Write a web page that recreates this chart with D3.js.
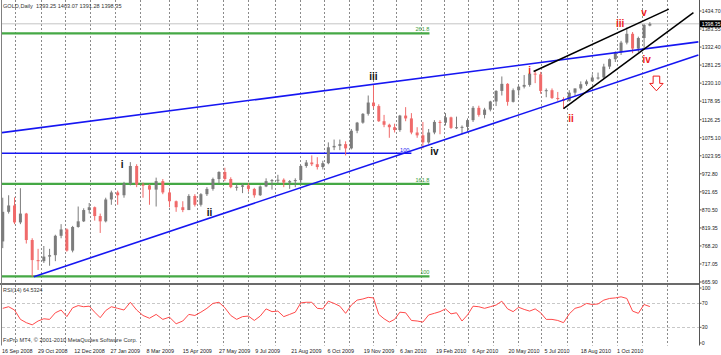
<!DOCTYPE html>
<html><head><meta charset="utf-8">
<script src="https://cdn.jsdelivr.net/npm/d3@7"></script>
<style>html,body{margin:0;padding:0;background:#fff;overflow:hidden}</style>
</head><body>
<svg id="c" width="721" height="355"></svg>
<script>
// ---------- DATA ----------
const weekStart = [
"2008-09-15","2008-09-22","2008-09-29","2008-10-06","2008-10-13","2008-10-20","2008-10-27","2008-11-03","2008-11-10","2008-11-17",
"2008-11-24","2008-12-01","2008-12-08","2008-12-15","2008-12-22","2008-12-29","2009-01-05","2009-01-12","2009-01-19","2009-01-26",
"2009-02-02","2009-02-09","2009-02-16","2009-02-23","2009-03-02","2009-03-09","2009-03-16","2009-03-23","2009-03-30","2009-04-06",
"2009-04-13","2009-04-20","2009-04-27","2009-05-04","2009-05-11","2009-05-18","2009-05-25","2009-06-01","2009-06-08","2009-06-15",
"2009-06-22","2009-06-29","2009-07-06","2009-07-13","2009-07-20","2009-07-27","2009-08-03","2009-08-10","2009-08-17","2009-08-24",
"2009-08-31","2009-09-07","2009-09-14","2009-09-21","2009-09-28","2009-10-05","2009-10-12","2009-10-19","2009-10-26","2009-11-02",
"2009-11-09","2009-11-16","2009-11-23","2009-11-30","2009-12-07","2009-12-14","2009-12-21","2009-12-28","2010-01-04","2010-01-11",
"2010-01-18","2010-01-25","2010-02-01","2010-02-08","2010-02-15","2010-02-22","2010-03-01","2010-03-08","2010-03-15","2010-03-22",
"2010-03-29","2010-04-05","2010-04-12","2010-04-19","2010-04-26","2010-05-03","2010-05-10","2010-05-17","2010-05-24","2010-05-31",
"2010-06-07","2010-06-14","2010-06-21","2010-06-28","2010-07-05","2010-07-12","2010-07-19","2010-07-26","2010-08-02","2010-08-09",
"2010-08-16","2010-08-23","2010-08-30","2010-09-06","2010-09-13","2010-09-20","2010-09-27","2010-10-04","2010-10-11","2010-10-18",
"2010-10-25","2010-11-01","2010-11-08"];
const open = [
781,865,883,835,860,785,728,725,738,742, 797,815,755,822,838,870,878,853,838,900,
920,912,945,995,942,940,928,952,920,895, 878,870,910,885,915,930,958,978,958,935,
936,940,930,912,937,952,955,956,948,952, 955,995,1005,1000,992,1003,1048,1052,1057,1045,
1095,1118,1143,1175,1165,1122,1112,1105,1097,1138, 1130,1090,1082,1062,1090,1120,1118,1133,1103,1105,
1106,1125,1160,1140,1155,1178,1208,1228,1177,1210, 1220,1225,1257,1255,1208,1210,1188,1185,1180,1203,
1215,1227,1235,1246,1246,1277,1298,1318,1345,1370, 1328,1358,1393.25];
const high = [
905,912,906,932,862,790,760,768,760,800, 830,818,825,880,875,890,880,860,905,925,
925,950,1006,1000,948,943,962,958,928,897, 895,915,915,918,935,962,980,990,963,945,
945,946,933,940,960,958,970,960,955,960, 998,1012,1025,1020,1010,1062,1070,1070,1065,1100,
1120,1145,1195,1226,1170,1140,1115,1115,1140,1162, 1145,1105,1120,1100,1125,1125,1145,1135,1135,1110,
1130,1165,1166,1160,1180,1210,1249,1230,1215,1222, 1253,1262,1265,1262,1215,1215,1205,1190,1210,1215,
1235,1240,1255,1260,1285,1300,1320,1350,1388,1375, 1362,1398,1403.07];
const low = [
762,860,830,830,775,681,700,720,712,725, 790,752,750,820,836,860,840,805,835,885,
885,905,940,935,905,885,880,915,878,865, 864,870,880,880,910,925,945,952,932,925,
918,922,905,910,935,928,945,935,930,935, 945,990,995,985,985,1000,1040,1040,1025,1042,
1088,1115,1138,1158,1120,1105,1075,1090,1092,1122, 1085,1075,1045,1058,1085,1085,1110,1100,1100,1085,
1093,1120,1135,1130,1150,1165,1195,1166,1175,1195, 1215,1220,1230,1200,1190,1185,1180,1157,1178,1195,
1210,1222,1235,1240,1242,1270,1290,1310,1340,1315, 1318,1330,1391.28];
const close = [
865,883,835,860,785,728,725,738,742,797, 815,755,822,838,870,878,853,838,900,920,
912,945,995,942,940,928,952,920,895,878, 870,910,885,915,930,958,978,958,935,936,
940,930,912,937,952,955,956,948,952,955, 995,1005,1000,992,1003,1048,1052,1057,1045,1095,
1118,1143,1175,1165,1122,1112,1105,1097,1138,1130, 1090,1082,1062,1090,1120,1118,1133,1103,1105,1106,
1125,1160,1140,1155,1178,1208,1228,1177,1210,1220, 1225,1257,1255,1208,1210,1188,1185,1180,1203,1215,
1227,1235,1246,1246,1277,1298,1318,1345,1370,1328, 1358,1395,1398.35];
const rsi = [
61.6,64.3,58.8,43.2,37.7,34.1,40.5,44.2,43.2,54.2, 58.8,47.8,62.5,66.2,64.3,65.2,55.2,46.0,57.9,64.3,
61.6,58.8,71.7,58.8,49.7,45.1,51.5,43.2,46.9,35.9, 40.5,51.5,49.7,55.2,61.6,69.8,71.7,62.5,49.7,43.2,
47.8,48.7,41.4,48.7,60.7,56.1,57.0,47.8,51.5,55.2, 70.7,71.7,71.7,61.6,60.7,73.5,69.8,65.2,53.3,67.1,
75.3,77.2,79.9,79.0,51.5,44.2,38.7,43.2,55.2,54.2, 41.4,40.5,38.7,50.6,53.3,56.1,60.7,52.4,54.2,40.5,
50.6,65.2,64.3,61.6,64.3,67.1,73.5,60.7,56.1,63.4, 59.8,57.0,60.7,54.2,43.2,43.2,41.4,37.7,52.4,61.6,
64.3,69.8,68.0,68.9,75.3,78.1,79.0,80.8,78.1,57.0, 53.3,68.0,64.53];

const tickDates = ["2008-09-16","2008-10-29","2008-12-12","2009-01-27","2009-03-08","2009-04-15","2009-05-27",
"2009-07-09","2009-08-21","2009-10-06","2009-11-19","2010-01-06","2010-02-19","2010-04-06","2010-05-20",
"2010-07-05","2010-08-18","2010-10-01"];
const priceTicks = [1434.70,1383.55,1332.40,1281.25,1230.10,1178.95,1126.25,1075.10,1023.95,972.80,
921.65,870.50,819.35,768.20,717.05,665.90];
const rsiTicks = [100,70,30,0];
const rsiLevels = [70,30];
const bid = 1398.35;
const header = "GOLD,Daily  1393.25 1403.07 1391.28 1398.35";
const rsiTitle = "RSI(14) 64.5324";
const copyright = "FxPro MT4, \u00a9 2001-2010 MetaQuotes Software Corp.";

// Fibonacci levels (green) and level (blue)
const fibLevels = [["261.8",1371],["161.8",944.5],["100",682]];
const fibEnd = "2010-02-11";
const blueLevel = ["100",1031];
const blueLevelEnd = "2010-01-20";

// trend lines: [date1, price1, date2, price2, kind]
const trendLines = [
  ["2008-09-16",1089.5,"2011-01-08",1347,"blue"],
  ["2008-10-24",681,"2011-01-08",1310,"blue"],
  ["2010-06-21",1263,"2010-12-03",1440,"black"],
  ["2010-07-28",1158,"2011-01-02",1430,"black"]
];
// wave labels: [text, date, price, kind]
const waves = [
  ["i","2009-02-09",1000.7,"black"],["ii","2009-05-16",862.5,"black"],
  ["iii","2009-12-02",1248.3,"black"],["iv","2010-02-17",1035.5,"black"],
  ["i","2010-06-16",1265.3,"red"],["ii","2010-08-06",1130.3,"red"],
  ["iii","2010-10-05",1399.8,"red"],["iv","2010-11-06",1298.5,"red"],
  ["v","2010-11-03",1431,"red"]
];
const arrowAt = ["2010-11-18",1250];

// ---------- SCALES ----------
const parse = d3.utcParse("%Y-%m-%d");
const tD = tickDates.map(parse);
const X0 = 1.9, STEP = 36.18;
const x = d3.scaleUtc().domain(tD).range(tD.map((d,i)=>X0+i*STEP));
const y = d3.scaleLinear().domain([665.9,1434.7]).range([282,11]);
const yr = d3.scaleLinear().domain([0,100]).range([345.3,285.3]);

const PL=2, PR=699.5, PB=283, RT=285, RB=345.5;
const FONT = "'Liberation Sans', Arial, sans-serif";
const RED="#ee1c1c", BLUE="#1616f2", GREEN="#45a845";
const AX_FS = 5.2, AX_X = 701.8;

const svg = d3.select("#c");
svg.append("rect").attr("width",721).attr("height",355).attr("fill","#fff");
const defs = svg.append("defs");
defs.append("clipPath").attr("id","main").append("rect").attr("x",PL).attr("y",0).attr("width",PR-PL).attr("height",PB);
defs.append("clipPath").attr("id","sub").append("rect").attr("x",PL).attr("y",RT).attr("width",PR-PL).attr("height",RB-RT);

// grid
const months = d3.utcMonth.range(new Date(Date.UTC(2008,9,1)), new Date(Date.UTC(2011,0,1)));
const gridG = svg.append("g").attr("stroke","#8a8a8a").attr("stroke-width",1).attr("stroke-dasharray","2,2");
months.forEach(m=>{
  const xx = Math.round(x(m))+0.5;
  if (xx<PR-2){
    gridG.append("line").attr("x1",xx).attr("x2",xx).attr("y1",0).attr("y2",PB);
    gridG.append("line").attr("x1",xx).attr("x2",xx).attr("y1",RT).attr("y2",RB);
  }
});
// RSI level lines
rsiLevels.forEach(l=>{
  svg.append("line").attr("x1",PL).attr("x2",PR).attr("y1",Math.round(yr(l))+0.5).attr("y2",Math.round(yr(l))+0.5)
    .attr("stroke","#c8c8c8").attr("stroke-dasharray","3,2");
});

const main = svg.append("g").attr("clip-path","url(#main)");
// bid line
main.append("line").attr("x1",PL).attr("x2",PR).attr("y1",y(bid)).attr("y2",y(bid)).attr("stroke","#c4c4c4");

// fib lines
fibLevels.forEach(([t,p])=>{
  main.append("line").attr("x1",PL).attr("x2",x(parse(fibEnd))).attr("y1",y(p)).attr("y2",y(p))
    .attr("stroke",GREEN).attr("stroke-width",2.2);
  svg.append("text").attr("x",x(parse(fibEnd))).attr("y",y(p)-2).attr("text-anchor","end")
    .attr("font-family",FONT).attr("font-size",5.6).attr("fill","#3a9a3a").text(t);
});
main.append("line").attr("x1",PL).attr("x2",x(parse(blueLevelEnd))).attr("y1",y(blueLevel[1])).attr("y2",y(blueLevel[1]))
  .attr("stroke",BLUE).attr("stroke-width",1.4);
svg.append("text").attr("x",x(parse(blueLevelEnd))-2).attr("y",y(blueLevel[1])-1.5).attr("text-anchor","end")
  .attr("font-family",FONT).attr("font-size",5.6).attr("fill",BLUE).text(blueLevel[0]);

// candles
const bars = weekStart.map((d,i)=>({d:d3.utcDay.offset(parse(d),2),o:open[i],h:high[i],l:low[i],c:close[i]}));
const BW = 3.0;
const cg = main.append("g");
bars.forEach(b=>{
  const col = b.c>=b.o ? "#7c7c7c" : "#f06a6a";
  const cx = x(b.d);
  cg.append("line").attr("x1",cx).attr("x2",cx).attr("y1",y(b.h)).attr("y2",y(b.l)).attr("stroke",col).attr("stroke-width",1);
  const top = y(Math.max(b.o,b.c)), bot = y(Math.min(b.o,b.c));
  cg.append("rect").attr("x",cx-BW/2).attr("y",top).attr("width",BW).attr("height",Math.max(1,bot-top)).attr("fill",col);
});

// trend lines
trendLines.forEach(([d1,p1,d2,p2,k])=>{
  main.append("line").attr("x1",x(parse(d1))).attr("y1",y(p1)).attr("x2",x(parse(d2))).attr("y2",y(p2))
    .attr("stroke",k==="blue"?BLUE:"#000").attr("stroke-width",k==="blue"?1.6:1.5);
});

// wave labels
waves.forEach(([t,d,p,k])=>{
  svg.append("text").attr("x",x(parse(d))).attr("y",y(p)+3.7).attr("text-anchor","middle")
    .attr("font-family",FONT).attr("font-weight","bold").attr("font-size",10)
    .attr("fill",k==="red"?RED:"#111").text(t);
});

// arrow
{
  const ax = x(parse(arrowAt[0])), ay = y(arrowAt[1]);
  svg.append("path").attr("transform",`translate(${ax},${ay})`)
    .attr("d","M-3.3,0 L3.3,0 L3.3,7.3 L6.7,7.3 L0,14.7 L-6.7,7.3 L-3.3,7.3 Z")
    .attr("fill","#fff").attr("stroke",RED).attr("stroke-width",1);
}

// RSI line
const sub = svg.append("g").attr("clip-path","url(#sub)");
sub.append("path").datum(bars.map((b,i)=>[b.d,rsi[i]]))
  .attr("d",d3.line().x(d=>x(d[0])).y(d=>yr(d[1])))
  .attr("fill","none").attr("stroke","#ff4a4a").attr("stroke-width",1);

// separators & frame
svg.append("rect").attr("x",0).attr("y",PB).attr("width",PR).attr("height",2).attr("fill","#6b6b6b");
svg.append("line").attr("x1",1.5).attr("x2",1.5).attr("y1",0).attr("y2",RB).attr("stroke","#808080");
svg.append("line").attr("x1",PR).attr("x2",PR).attr("y1",0).attr("y2",RB).attr("stroke","#555");

// price axis
priceTicks.forEach(v=>{
  const yy = y(v);
  svg.append("line").attr("x1",PR).attr("x2",PR+2).attr("y1",yy).attr("y2",yy).attr("stroke","#555");
  svg.append("text").attr("x",AX_X).attr("y",yy+2).attr("font-family",FONT).attr("font-size",AX_FS).attr("fill","#222")
    .text(v.toFixed(2));
});
// current price box
{
  const yy = y(bid);
  svg.append("rect").attr("x",PR+0.5).attr("y",yy-3.5).attr("width",22).attr("height",7).attr("fill","#000");
  svg.append("text").attr("x",AX_X).attr("y",yy+2).attr("font-family",FONT).attr("font-size",AX_FS).attr("fill","#fff")
    .text(bid.toFixed(2));
}
// RSI axis
rsiTicks.forEach(v=>{
  const yy = Math.min(Math.max(yr(v),288),343);
  svg.append("line").attr("x1",PR).attr("x2",PR+2).attr("y1",yy).attr("y2",yy).attr("stroke","#555");
  svg.append("text").attr("x",AX_X).attr("y",yy+2).attr("font-family",FONT).attr("font-size",AX_FS).attr("fill","#222").text(v);
});

// date axis
const fmt = d3.utcFormat("%-d %b %Y");
tD.forEach(d=>{
  svg.append("text").attr("x",x(d)).attr("y",352.5).attr("font-family",FONT).attr("font-size",5.4).attr("fill","#222").text(fmt(d));
});

// texts
svg.append("text").attr("x",3).attr("y",8).attr("font-family",FONT).attr("font-size",5.6).attr("fill","#333")
  .attr("xml:space","preserve").style("white-space","pre").text(header);
svg.append("text").attr("x",3).attr("y",292).attr("font-family",FONT).attr("font-size",5.4).attr("fill","#333").text(rsiTitle);
svg.append("text").attr("x",3).attr("y",342).attr("font-family",FONT).attr("font-size",5.6).attr("fill","#333").text(copyright);
</script>
</body></html>
